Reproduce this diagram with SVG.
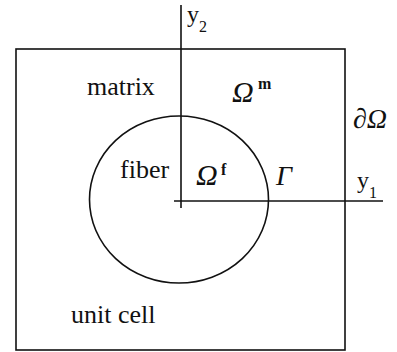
<svg xmlns="http://www.w3.org/2000/svg" width="397" height="352" viewBox="0 0 397 352">
<style>
.ln{stroke:#111;stroke-width:1.6;fill:none}
.t{font-family:"Liberation Serif","Times New Roman",serif;font-size:26px;fill:#111}
.it{font-style:italic;font-size:28px}
.om{font-size:30px}
.ax{font-size:24px}
.sup{font-family:"Liberation Serif","Times New Roman",serif;font-size:16px;font-weight:bold;fill:#111}
.sub{font-family:"Liberation Serif","Times New Roman",serif;font-size:16px;fill:#111}
</style>
<rect width="397" height="352" fill="#fff"/>
<g id="unit-cell">
<rect class="ln" x="16" y="49" width="329" height="301"/>
<text class="t" x="71" y="323">unit cell</text>
<text class="t" x="87" y="95">matrix</text>
<text class="t it om" x="232" y="102">Ω</text><text class="sup" x="258" y="89">m</text>
<text class="t it" x="353" y="128">∂Ω</text>
</g>
<g id="fiber">
<ellipse class="ln" cx="179" cy="199.5" rx="89.5" ry="83.5"/>
<text class="t" x="120" y="178">fiber</text>
<text class="t it om" x="196" y="185">Ω</text><text class="sup" x="221" y="175">f</text>
<text class="t it" x="276" y="185">Γ</text>
</g>
<g id="axes">
<line class="ln" x1="181" y1="5" x2="181" y2="208"/>
<line class="ln" x1="174" y1="201" x2="383" y2="201"/>
<text class="t ax" x="187" y="22">y</text><text class="sub" x="199" y="32">2</text>
<text class="t ax" x="357" y="188">y</text><text class="sub" x="369" y="198">1</text>
</g>
</svg>
